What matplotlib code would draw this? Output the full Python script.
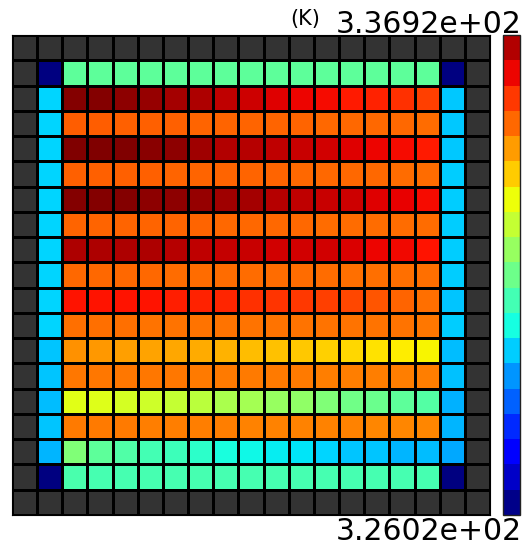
import numpy as np
import matplotlib
matplotlib.use("Agg")
import matplotlib.pyplot as plt
from matplotlib.colors import ListedColormap, BoundaryNorm, Normalize

# Temperature values (K) of the interior 17 x 17 cells, read row by row (top -> bottom)
row_01 = [326.06, 331.06, 331.06, 331.06, 331.06, 331.06, 331.06, 331.06, 331.06, 331.06, 331.06, 331.06, 331.06, 331.06, 331.06, 331.06, 326.06]
row_02 = [329.65, 336.84, 336.84, 336.78, 336.70, 336.54, 336.46, 336.32, 336.16, 336.00, 335.86, 335.78, 335.64, 335.55, 335.38, 335.20, 329.54]
row_03 = [329.65, 334.85, 334.85, 334.83, 334.82, 334.80, 334.79, 334.78, 334.77, 334.76, 334.75, 334.74, 334.74, 334.73, 334.72, 334.70, 329.54]
row_04 = [329.65, 336.88, 336.92, 336.90, 336.81, 336.77, 336.59, 336.44, 336.40, 336.32, 336.20, 336.12, 336.00, 335.86, 335.78, 335.61, 329.54]
row_05 = [329.65, 334.82, 334.82, 334.81, 334.80, 334.79, 334.78, 334.77, 334.76, 334.75, 334.74, 334.73, 334.72, 334.71, 334.70, 334.69, 329.56]
row_06 = [329.65, 336.84, 336.84, 336.84, 336.78, 336.77, 336.70, 336.59, 336.54, 336.40, 336.32, 336.23, 336.16, 336.00, 335.93, 335.78, 329.56]
row_07 = [329.65, 334.78, 334.78, 334.77, 334.76, 334.75, 334.75, 334.74, 334.73, 334.72, 334.71, 334.70, 334.70, 334.69, 334.68, 334.67, 329.56]
row_08 = [329.65, 336.46, 336.46, 336.49, 336.46, 336.40, 336.32, 336.27, 336.23, 336.12, 336.12, 336.12, 336.05, 335.86, 335.83, 335.72, 329.56]
row_09 = [329.65, 334.72, 334.72, 334.71, 334.71, 334.70, 334.70, 334.69, 334.69, 334.68, 334.67, 334.67, 334.66, 334.66, 334.65, 334.64, 329.56]
row_10 = [329.65, 335.71, 335.71, 335.71, 335.69, 335.59, 335.55, 335.50, 335.38, 335.33, 335.29, 335.21, 335.09, 334.95, 334.76, 334.64, 329.48]
row_11 = [329.65, 334.63, 334.63, 334.63, 334.62, 334.62, 334.61, 334.61, 334.60, 334.60, 334.60, 334.59, 334.59, 334.58, 334.58, 334.57, 329.56]
row_12 = [329.51, 334.27, 334.17, 334.10, 334.04, 334.02, 333.98, 333.87, 333.75, 333.72, 333.63, 333.54, 333.45, 333.32, 333.21, 333.13, 329.41]
row_13 = [329.51, 334.56, 334.56, 334.55, 334.55, 334.54, 334.53, 334.52, 334.51, 334.50, 334.50, 334.49, 334.48, 334.48, 334.47, 334.46, 329.43]
row_14 = [329.39, 332.80, 332.75, 332.64, 332.54, 332.43, 332.28, 332.09, 332.00, 331.85, 331.74, 331.52, 331.32, 331.22, 331.06, 330.95, 329.26]
row_15 = [329.48, 334.51, 334.50, 334.50, 334.49, 334.48, 334.47, 334.46, 334.45, 334.44, 334.43, 334.42, 334.41, 334.40, 334.39, 334.37, 329.34]
row_16 = [329.34, 331.52, 331.06, 330.89, 330.74, 330.63, 330.41, 330.16, 330.03, 329.90, 329.81, 329.65, 329.51, 329.48, 329.34, 329.39, 329.18]
row_17 = [326.02, 330.80, 330.78, 330.78, 330.78, 330.78, 330.78, 330.78, 330.78, 330.78, 330.78, 330.78, 330.78, 330.78, 330.78, 330.78, 326.02]

vmin_label = "3.2602e+02"
vmax_label = "3.3692e+02"
unit_label = "(K)"
vmin = 326.02
vmax = 336.92
n_levels = 19

interior = np.array([row_01, row_02, row_03, row_04, row_05, row_06, row_07, row_08, row_09,
                     row_10, row_11, row_12, row_13, row_14, row_15, row_16, row_17])
n = interior.shape[0] + 2
grid = np.full((n, n), np.nan)
grid[1:-1, 1:-1] = interior
data = np.ma.masked_invalid(grid)

W, H = 527, 544
fig = plt.figure(figsize=(W / 100, H / 100), dpi=100)

ax = fig.add_axes([12 / W, 1 - 515 / H, 478 / W, 480 / H])
cmap = plt.get_cmap("jet").copy()
cmap.set_bad("#333333")
ax.pcolormesh(np.arange(n + 1), np.arange(n + 1), data, cmap=cmap,
              norm=Normalize(vmin, vmax), edgecolors="black", linewidth=0.8)
ax.set_xlim(0, n)
ax.set_ylim(n, 0)
ax.set_xticks([])
ax.set_yticks([])
for s in ax.spines.values():
    s.set_linewidth(0.8)

# discrete colour bar
cax = fig.add_axes([503 / W, 1 - 515 / H, 17 / W, 480 / H])
band_cmap = ListedColormap(plt.get_cmap("jet")(np.linspace(0.01, 0.955, n_levels)))
bounds = np.linspace(vmin, vmax, n_levels + 1)
sm = plt.cm.ScalarMappable(cmap=band_cmap, norm=BoundaryNorm(bounds, n_levels))
cb = fig.colorbar(sm, cax=cax)
cb.set_ticks([])
cax.yaxis.set_ticks([], minor=True)
cax.tick_params(which="both", length=0)
cb.outline.set_linewidth(1.0)
cb.outline.set_edgecolor("#222222")

fig.text(522 / W, 1 - 33 / H, vmax_label, ha="right", va="baseline", fontsize=21.5)
fig.text(522 / W, 1 - 539.5 / H, vmin_label, ha="right", va="baseline", fontsize=21.5)
fig.text(320 / W, 1 - 25 / H, unit_label, ha="right", va="baseline", fontsize=15)

fig.savefig("out.png", dpi=100)
